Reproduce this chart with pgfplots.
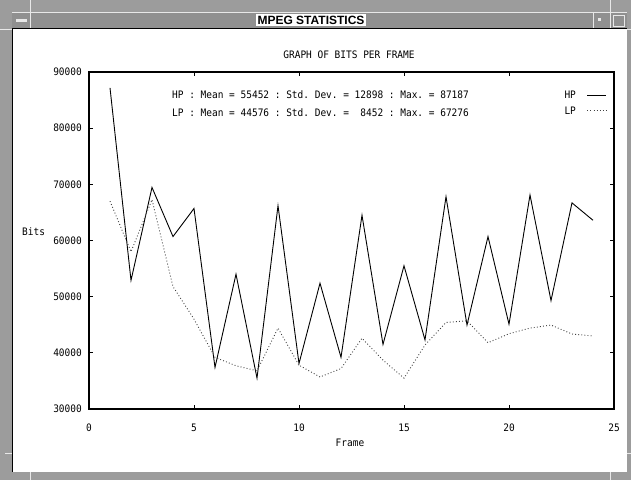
\documentclass[border=0pt]{standalone}
\usepackage{fontspec}
\newfontfamily\gfont{DejaVu Sans Mono}[FakeStretch=0.92]
\newfontfamily\tfont{Liberation Sans}
\usepackage{pgfplots}
\pgfplotsset{compat=1.18}
\definecolor{winA}{HTML}{9C9C9C}
\definecolor{winB}{HTML}{909090}
\definecolor{winL}{HTML}{E8E8E8}
\newcommand{\gf}{\gfont\fontsize{10.3bp}{12bp}\selectfont}
\begin{document}
\frenchspacing
\begin{tikzpicture}
\useasboundingbox (0,0) rectangle (631bp,-480bp);
\begin{scope}[x=1bp,y=-1bp]
  % window frame
  \fill[winA] (0,0) rectangle (631,480);
  \fill[winB] (12,12) rectangle (627,28);
  \fill[white] (13,29) rectangle (627,472);
  \draw[black, line width=1.2bp] (12.5,28.5) -- (12.5,472);
  \draw[black, line width=1bp] (12,28.5) -- (627,28.5);
  \draw[winL, line width=0.8bp] (12,12.5) -- (627,12.5);
  % separators / resize marks
  \draw[winL, line width=0.8bp] (30,0) -- (30,28);
  \draw[winL, line width=0.8bp] (593,12) -- (593,28);
  \draw[winL, line width=0.8bp] (610,0) -- (610,28);
  \draw[winL, line width=0.8bp] (0,29) -- (12,29);
  \draw[winL, line width=0.8bp] (627,29) -- (631,29);
  \draw[winL, line width=0.8bp] (5,453) -- (12,453);
  \draw[winL, line width=0.8bp] (627,453) -- (631,453);
  \draw[winL, line width=0.8bp] (30,472) -- (30,480);
  \draw[winL, line width=0.8bp] (610,472) -- (610,480);
  % title bar buttons
  \fill[winL] (16,19) rectangle (27,22);
  \fill[winL] (598,18) rectangle (601,21);
  \draw[winL, line width=0.8bp] (613.5,15.5) rectangle (624.5,26.5);
  \node[fill=white, inner sep=1.5bp, font=\tfont\bfseries\fontsize{12bp}{14bp}\selectfont] at (311,20) {MPEG STATISTICS};
  % plot texts
  \node[font=\gf, inner sep=0pt] at (349,55) {GRAPH OF BITS PER FRAME};
  \node[font=\gf, inner sep=0pt, anchor=west] at (22,232) {Bits};
  \node[font=\gf, inner sep=0pt] at (350,443) {Frame};
  \node[font=\gf, inner sep=0pt, anchor=west] at (172,95) {HP : Mean = 55452 : Std. Dev. = 12898 : Max. = 87187};
  \node[font=\gf, inner sep=0pt, anchor=west] at (172,113) {LP : Mean = 44576 : Std. Dev. = \ 8452 : Max. = 67276};
\end{scope}
\begin{axis}[
  at={(89bp,-409bp)}, anchor=south west,
  scale only axis, width=525bp, height=337bp,
  xmin=0, xmax=25, ymin=30000, ymax=90000,
  xtick={0,5,10,15,20,25},
  ytick={30000,40000,50000,60000,70000,80000,90000},
  scaled y ticks=false,
  /pgf/number format/assume math mode=true,
  yticklabel={\pgfmathprintnumber[fixed,1000 sep={}]{\tick}},
  ticklabel style={font=\gf},
  xticklabel style={inner sep=0pt, anchor=north, yshift=-15bp},
  yticklabel style={inner sep=0pt, anchor=east, xshift=-7bp},
  tick align=inside,
  major tick length=4bp,
  tick style={black, line width=1bp},
  minor tick num=0,
  axis line style={black, line width=1.4bp},
  legend style={draw=none, fill=none, font=\gf,
    at={(rel axis cs:0.9867,0.9436)}, anchor=north east,
    inner sep=0pt, row sep=8bp, column sep=11bp,
    nodes={inner sep=0pt, text height=7.5bp, text depth=0pt}},
  legend plot pos=right,
  legend cell align=left,
  legend image code/.code={\draw[#1] (0bp,0bp) -- (19bp,0bp);},
]
\addplot[black, line width=0.9bp] coordinates {
(1,87187) (2,52900) (3,69450) (4,60700) (5,65700) (6,37400) (7,54000) (8,35500)
(9,66200) (10,38100) (11,52400) (12,39200) (13,64500) (14,41500) (15,55500) (16,42300)
(17,67800) (18,44950) (19,60700) (20,45100) (21,68100) (22,49300) (23,66700) (24,63600)
};
\addlegendentry{HP}
\addplot[black!75, line width=0.9bp, dash pattern=on 0.9bp off 2.2bp] coordinates {
(1,67000) (2,58000) (3,67276) (4,51800) (5,46000) (6,39200) (7,37700) (8,36800)
(9,44400) (10,37800) (11,35700) (12,37200) (13,42600) (14,38700) (15,35500) (16,41400)
(17,45400) (18,45700) (19,41800) (20,43400) (21,44400) (22,44950) (23,43350) (24,43000)
};
\addlegendentry{LP}
\end{axis}
\end{tikzpicture}
\end{document}
